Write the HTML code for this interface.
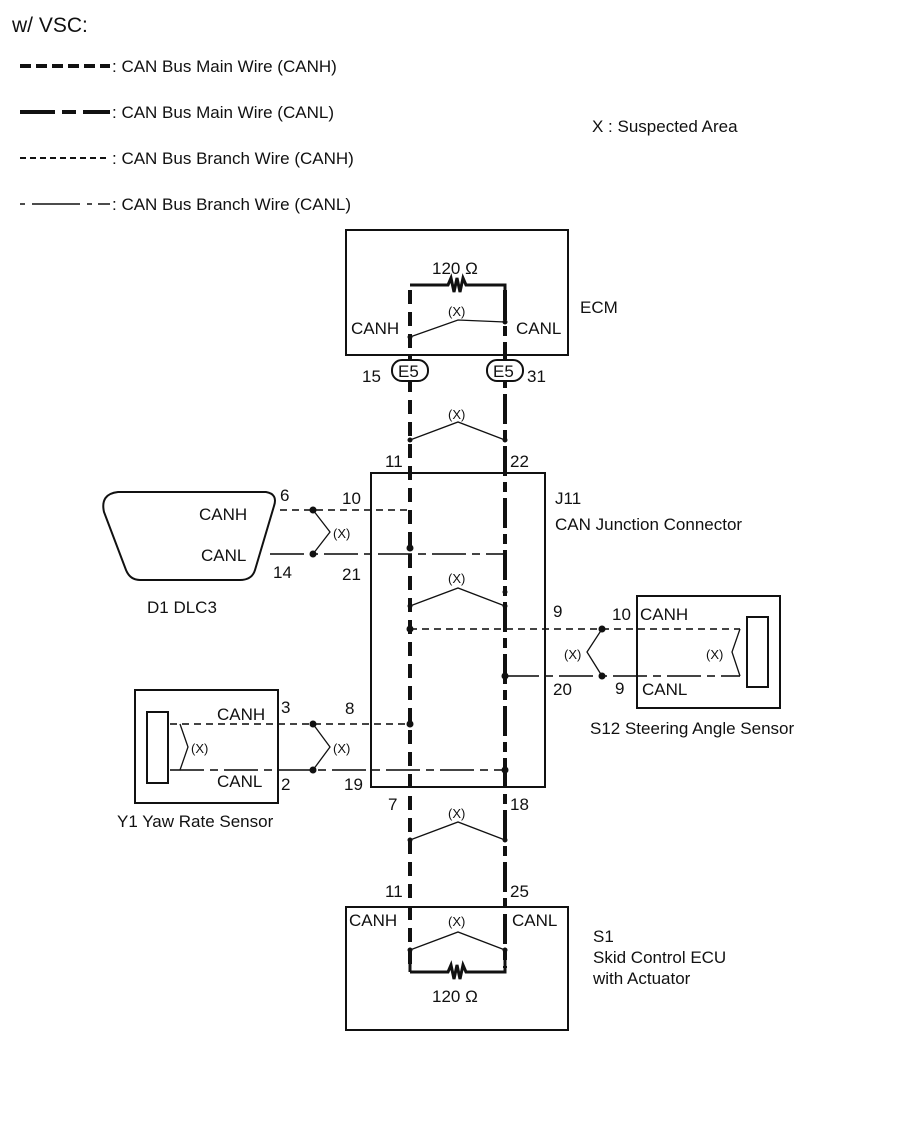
<!DOCTYPE html>
<html><head><meta charset="utf-8"><style>
html,body{margin:0;padding:0;background:#fff;}
svg{display:block;}
text{font-family:"Liberation Sans",Arial,sans-serif;fill:#111;}
</style></head><body>
<svg width="907" height="1122" viewBox="0 0 907 1122" xmlns="http://www.w3.org/2000/svg">
<rect width="907" height="1122" fill="#fff"/>
<g font-size="17">
<!-- Legend -->
<text x="12" y="32" font-size="21">w/ VSC:</text>
<line x1="20" y1="66" x2="110" y2="66" stroke="#111" stroke-width="4" stroke-dasharray="11,5"/>
<text x="112" y="72">: CAN Bus Main Wire (CANH)</text>
<path d="M20 112 H55 M62 112 H76 M83 112 H110" stroke="#111" stroke-width="4"/>
<text x="112" y="118">: CAN Bus Main Wire (CANL)</text>
<line x1="20" y1="158" x2="110" y2="158" stroke="#111" stroke-width="2" stroke-dasharray="6,4"/>
<text x="112" y="164">: CAN Bus Branch Wire (CANH)</text>
<path d="M20 204 H25 M32 204 H80 M87 204 H92 M98 204 H110" stroke="#111" stroke-width="1.6"/>
<text x="112" y="210">: CAN Bus Branch Wire (CANL)</text>
<text x="592" y="132">X : Suspected Area</text>

<!-- ECM box -->
<rect x="346" y="230" width="222" height="125" fill="none" stroke="#111" stroke-width="2"/>
<text x="580" y="313">ECM</text>
<text x="432" y="274">120 Ω</text>
<path d="M410 285 H448 L451 278 L454 292 L457 278 L460 292 L463 278 L466 285 H505 V290" fill="none" stroke="#111" stroke-width="3"/>
<text x="351" y="334">CANH</text>
<text x="516" y="334">CANL</text>

<!-- Branch wires -->
<g stroke="#444" stroke-width="2" fill="none">
<line x1="280" y1="510" x2="410" y2="510" stroke-dasharray="7,5"/>
<line x1="270" y1="554" x2="505" y2="554" stroke-dasharray="34,6,8,6"/>
<line x1="410" y1="629" x2="740" y2="629" stroke-dasharray="7,5"/>
<line x1="505" y1="676" x2="740" y2="676" stroke-dasharray="34,6,8,6"/>
<line x1="170" y1="724" x2="410" y2="724" stroke-dasharray="7,5"/>
<line x1="170" y1="770" x2="505" y2="770" stroke-dasharray="34,6,8,6"/>
</g>

<!-- Main wires -->
<line x1="410" y1="290" x2="410" y2="968" stroke="#111" stroke-width="4" stroke-dasharray="14,8"/>
<line x1="505" y1="290" x2="505" y2="968" stroke="#111" stroke-width="4" stroke-dasharray="30,6,10,6"/>
<path d="M410 972 H448 L451 965 L454 979 L457 965 L460 979 L463 965 L466 972 H505 V960 M410 972 V960" fill="none" stroke="#111" stroke-width="3"/>

<!-- E5 connectors -->
<rect x="392" y="360" width="36" height="21" rx="10" fill="#fff" stroke="#111" stroke-width="2"/>
<text x="398" y="377">E5</text>
<rect x="487" y="360" width="36" height="21" rx="10" fill="#fff" stroke="#111" stroke-width="2"/>
<text x="493" y="377">E5</text>
<text x="362" y="382">15</text>
<text x="527" y="382">31</text>

<!-- X marks -->
<g stroke="#111" stroke-width="1.3" fill="none">
<path d="M410 337 L458 320 L505 322"/>
<path d="M410 440 L458 422 L505 440"/>
<path d="M410 606 L458 588 L505 606"/>
<path d="M410 840 L458 822 L505 840"/>
<path d="M410 950 L458 932 L505 950"/>
<path d="M313 510 L330 532 L313 554"/>
<path d="M602 629 L587 652 L602 676"/>
<path d="M313 724 L330 747 L313 770"/>
<path d="M740 629 L732 652 L740 676"/>
<path d="M180 724 L188 747 L180 770"/>
</g>
<g font-size="13">
<text x="448" y="316">(X)</text>
<text x="448" y="419">(X)</text>
<text x="448" y="583">(X)</text>
<text x="448" y="818">(X)</text>
<text x="448" y="926">(X)</text>
<text x="333" y="538">(X)</text>
<text x="564" y="659">(X)</text>
<text x="333" y="753">(X)</text>
<text x="706" y="659">(X)</text>
<text x="191" y="753">(X)</text>
</g>
<g fill="#111">
<circle cx="410" cy="337" r="2.5"/><circle cx="505" cy="322" r="2.5"/>
<circle cx="410" cy="440" r="2.5"/><circle cx="505" cy="440" r="2.5"/>
<circle cx="410" cy="606" r="2.5"/><circle cx="505" cy="606" r="2.5"/><circle cx="505" cy="592" r="2.5"/>
<circle cx="410" cy="840" r="2.5"/><circle cx="505" cy="840" r="2.5"/>
<circle cx="410" cy="950" r="2.5"/><circle cx="505" cy="950" r="2.5"/>
<circle cx="313" cy="510" r="3.5"/><circle cx="313" cy="554" r="3.5"/><circle cx="410" cy="548" r="3.5"/>
<circle cx="410" cy="629" r="3.5"/><circle cx="602" cy="629" r="3.5"/><circle cx="602" cy="676" r="3.5"/><circle cx="505" cy="676" r="3.5"/>
<circle cx="313" cy="724" r="3.5"/><circle cx="313" cy="770" r="3.5"/><circle cx="410" cy="724" r="3.5"/><circle cx="505" cy="770" r="3.5"/>
</g>

<!-- J11 -->
<rect x="371" y="473" width="174" height="314" fill="none" stroke="#111" stroke-width="2"/>
<text x="385" y="467">11</text>
<text x="510" y="467">22</text>
<text x="555" y="504">J11</text>
<text x="555" y="530">CAN Junction Connector</text>
<text x="342" y="504">10</text>
<text x="342" y="580">21</text>
<text x="553" y="617">9</text>
<text x="553" y="695">20</text>
<text x="345" y="714">8</text>
<text x="344" y="790">19</text>
<text x="388" y="810">7</text>
<text x="510" y="810">18</text>

<!-- DLC3 -->
<path d="M118 492 H266 Q278 494 274 506 L255 570 Q252 580 240 580 H140 Q130 580 126 570 L104 512 Q100 494 118 492 Z" fill="none" stroke="#111" stroke-width="2"/>
<text x="199" y="520">CANH</text>
<text x="201" y="561">CANL</text>
<text x="280" y="501">6</text>
<text x="273" y="578">14</text>
<text x="147" y="613">D1  DLC3</text>

<!-- S12 -->
<rect x="637" y="596" width="143" height="112" fill="none" stroke="#111" stroke-width="2"/>
<rect x="747" y="617" width="21" height="70" fill="none" stroke="#111" stroke-width="2"/>
<text x="640" y="620">CANH</text>
<text x="642" y="695">CANL</text>
<text x="612" y="620">10</text>
<text x="615" y="694">9</text>
<text x="590" y="734">S12 Steering Angle Sensor</text>

<!-- Yaw -->
<rect x="135" y="690" width="143" height="113" fill="none" stroke="#111" stroke-width="2"/>
<rect x="147" y="712" width="21" height="71" fill="none" stroke="#111" stroke-width="2"/>
<text x="217" y="720">CANH</text>
<text x="217" y="787">CANL</text>
<text x="281" y="713">3</text>
<text x="281" y="790">2</text>
<text x="117" y="827">Y1  Yaw Rate Sensor</text>

<!-- S1 -->
<rect x="346" y="907" width="222" height="123" fill="none" stroke="#111" stroke-width="2"/>
<text x="385" y="897">11</text>
<text x="510" y="897">25</text>
<text x="349" y="926">CANH</text>
<text x="512" y="926">CANL</text>
<text x="432" y="1002">120 Ω</text>
<text x="593" y="942">S1</text>
<text x="593" y="963">Skid Control ECU</text>
<text x="593" y="984">with Actuator</text>
</g>
</svg>
</body></html>
